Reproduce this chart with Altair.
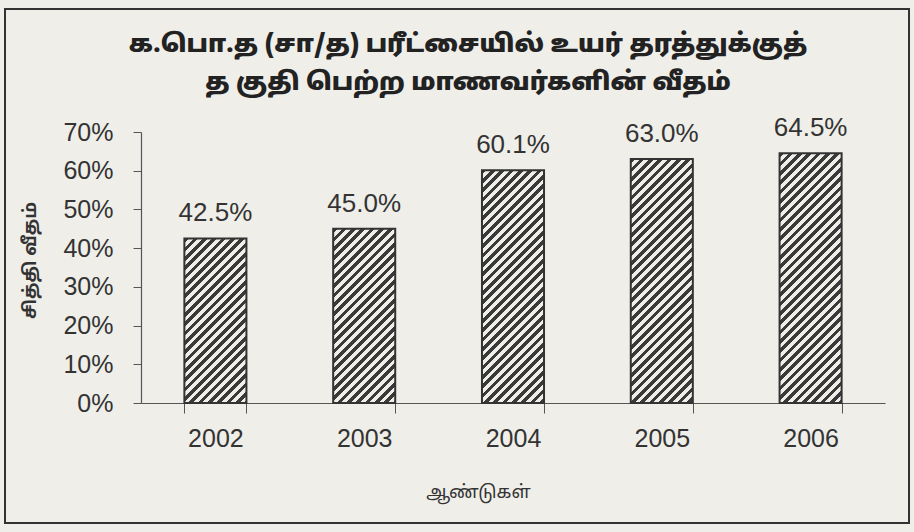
import math
import altair as alt
import pandas as pd

# ---- data ----
years = ["2002", "2003", "2004", "2005", "2006"]
values = [42.5, 45.0, 60.1, 63.0, 64.5]
y_ticks = [0, 10, 20, 30, 40, 50, 60, 70]
title_lines = ["க.பொ.த (சா/த) பரீட்சையில் உயர் தரத்துக்குத்",
               "த குதி பெற்ற மாணவர்களின் வீதம்"]
y_title = "சித்தி வீதம்"
x_title = "ஆண்டுகள்"

# ---- layout / style ----
W, H = 744, 271
YMAX = 70
PAD_INNER = 0.583
BG = "#efeee9"
DARK = "#3a3a3a"
INK = "#333333"
NUM_FONT = "Liberation Sans"
TAMIL_FONT = "Noto Sans Tamil, Lohit Tamil, Latha, Noto Sans, sans-serif"

df = pd.DataFrame({"year": years, "value": values})


def hatch(v):
    """Diagonal '///' hatch as a hard-stop linear gradient sized to the bar."""
    step = W / len(years)
    w = step * (1 - PAD_INNER)
    h = v * H / YMAX
    k = w / h
    q = (k + 1) / (k * k + 1)
    p = k * q
    period = 6.6
    n = (w + h) / (math.sqrt(2) * period)
    stops = []
    i = 0
    while i < n:
        a = i / n
        b = min((i + 0.5) / n, 1)
        c = min((i + 1) / n, 1)
        stops += [
            alt.GradientStop(offset=a, color=DARK),
            alt.GradientStop(offset=b, color=DARK),
            alt.GradientStop(offset=b, color=BG),
            alt.GradientStop(offset=c, color=BG),
        ]
        i += 1
    return alt.LinearGradient(gradient="linear", stops=stops,
                              x1=0, y1=0, x2=p, y2=q)


x_enc = alt.X(
    "year:O",
    scale=alt.Scale(domain=years, paddingInner=PAD_INNER, paddingOuter=PAD_INNER / 2),
    axis=alt.Axis(
        title=x_title,
        labelAngle=0,
        tickBand="extent",
        tickSize=10,
        tickColor="#555",
        domainColor="#555",
        domainWidth=1.2,
        labelFont=NUM_FONT,
        labelFontSize=25,
        labelColor=INK,
        labelPadding=13,
        titleFont=TAMIL_FONT,
        titleFontSize=18,
        titleFontWeight="normal",
        titleColor=INK,
        titleX=337,
        titleY=89,
        titleBaseline="middle",
    ),
)
y_enc = alt.Y(
    "value:Q",
    scale=alt.Scale(domain=[0, YMAX], nice=False),
    axis=alt.Axis(
        values=y_ticks,
        labelExpr="datum.value + '%'",
        grid=False,
        tickSize=8,
        tickColor="#555",
        domainColor="#555",
        domainWidth=1.2,
        labelFont=NUM_FONT,
        labelFontSize=25,
        labelColor=INK,
        labelPadding=20,
        title=y_title,
        titleFont=TAMIL_FONT,
        titleFontSize=18,
        titleFontWeight="bold",
        titleColor=INK,
        titleX=-111,
        titleY=128,
        titleAngle=-90,
        titleAlign="center",
        titleBaseline="middle",
    ),
)

base = alt.Chart(df)

bar_layers = [
    base.transform_filter(alt.datum.year == yr)
    .mark_bar(fill=hatch(v), stroke=INK, strokeWidth=2)
    .encode(x=x_enc, y=y_enc)
    for yr, v in zip(years, values)
]

labels = (
    base.transform_calculate(label="format(datum.value, '.1f') + '%'")
    .mark_text(baseline="bottom", dy=-12, font=NUM_FONT, fontSize=26, color=INK)
    .encode(x=x_enc, y=y_enc, text="label:N")
)

frame = (
    alt.Chart(pd.DataFrame({"f": [0]}))
    .mark_rect(fill="transparent", stroke=INK, strokeWidth=2)
    .encode(x=alt.value(-136), x2=alt.value(768), y=alt.value(-123), y2=alt.value(391))
)

chart = (
    alt.layer(*bar_layers, labels, frame)
    .properties(
        width=W,
        height=H,
        title=alt.Title(
            title_lines,
            font=TAMIL_FONT,
            fontSize=25,
            fontWeight=900,
            color="#222222",
            anchor="middle",
            frame="group",
            dx=-45,
            offset=-87,
            lineHeight=38,
        ),
        autosize=alt.AutoSizeParams(type="none"),
        padding={"left": 141, "top": 132, "right": 29, "bottom": 129},
    )
    .configure(background=BG)
    .configure_view(stroke=None)
)

chart.save("out.html", embed_options={"renderer": "svg", "actions": False})
